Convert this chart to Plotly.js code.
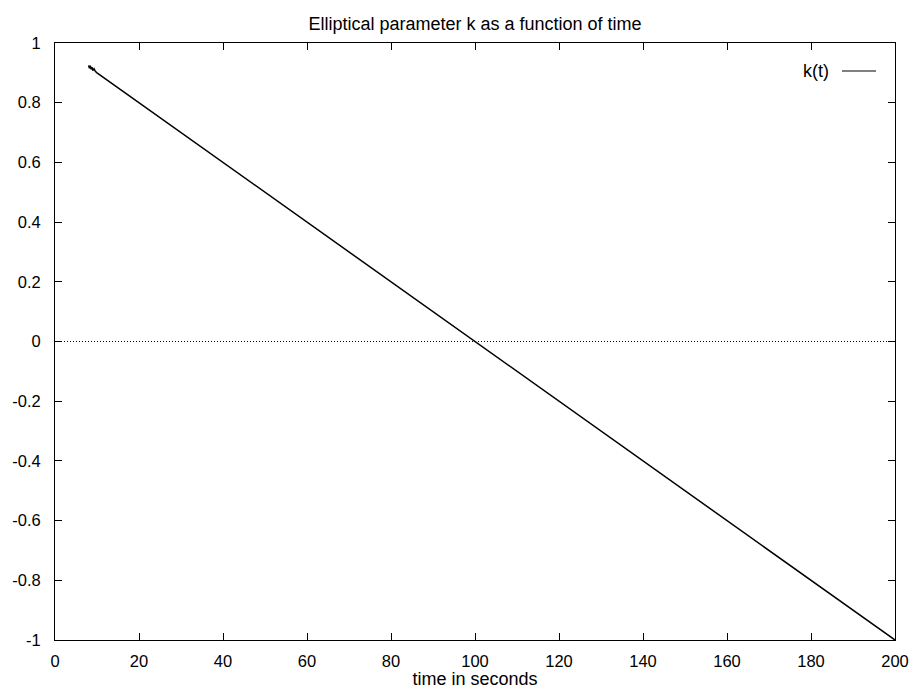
<!DOCTYPE html>
<html>
<head>
<meta charset="utf-8">
<script src="https://cdn.plot.ly/plotly-3.0.1.min.js"></script>
<style>
  html, body { margin: 0; padding: 0; background: #fff; }
  #chart { width: 915px; height: 689px; }
</style>
</head>
<body>
<div id="chart"></div>
<script>
// Time samples (seconds) and elliptical parameter k(t)
const timeSec = [8.0, 8.2, 8.4, 8.6, 8.8, 9.0, 9.3, 9.6, 10, 20, 40, 60, 80, 100, 120, 140, 160, 180, 200];
const kValues = [0.925, 0.915, 0.924, 0.912, 0.919, 0.908, 0.914, 0.905, 0.90, 0.80, 0.60, 0.40, 0.20, 0.00, -0.20, -0.40, -0.60, -0.80, -1.00];

const xTicks = [0, 20, 40, 60, 80, 100, 120, 140, 160, 180, 200];
const yTicks = [-1, -0.8, -0.6, -0.4, -0.2, 0, 0.2, 0.4, 0.6, 0.8, 1];

const FONT = 'Liberation Sans, Arial, Helvetica, sans-serif';
const TEXT_SIZE = 18;
const TICK_SIZE = 16.5;

const traces = [{
  x: timeSec,
  y: kValues,
  type: 'scatter',
  mode: 'lines',
  name: 'k(t)',
  line: { color: '#000', width: 1.5 },
  showlegend: false
}];

const axisCommon = {
  showgrid: false,
  zeroline: false,
  showline: true,
  linecolor: '#000',
  linewidth: 1,
  mirror: 'ticks',
  ticks: 'inside',
  ticklen: 7,
  tickwidth: 1,
  tickcolor: '#000',
  tickfont: { family: FONT, size: TICK_SIZE, color: '#000' }
};

const layout = {
  width: 915,
  height: 689,
  margin: { l: 55, r: 20, t: 43, b: 49 },
  paper_bgcolor: '#fff',
  plot_bgcolor: '#fff',
  font: { family: FONT, size: TEXT_SIZE, color: '#000' },
  title: {
    text: 'Elliptical parameter k as a function of time',
    font: { family: FONT, size: TEXT_SIZE, color: '#000' },
    x: 0.5, xref: 'paper', xanchor: 'center',
    y: 1 - 24 / 689, yanchor: 'middle', yref: 'container'
  },
  xaxis: Object.assign({}, axisCommon, {
    range: [0, 200],
    tickvals: xTicks,
    ticktext: xTicks.map(String),
    ticklabelstandoff: 6,
    title: { text: 'time in seconds', font: { family: FONT, size: TEXT_SIZE, color: '#000' }, standoff: 1 }
  }),
  yaxis: Object.assign({}, axisCommon, {
    range: [-1, 1],
    tickvals: yTicks,
    ticktext: yTicks.map(String),
    ticklabelstandoff: 10
  }),
  shapes: [
    // dotted zero reference line
    { type: 'line', xref: 'paper', yref: 'y', x0: 0, x1: 1, y0: 0, y1: 0,
      line: { color: '#000', width: 1, dash: '1px,2px' } },
    // legend sample line
    { type: 'line', xref: 'paper', yref: 'paper',
      x0: (842 - 55) / 840, x1: (876 - 55) / 840,
      y0: (640 - 71) / 597, y1: (640 - 71) / 597,
      line: { color: '#000', width: 1 } }
  ],
  annotations: [
    { text: 'k(t)', xref: 'paper', yref: 'paper',
      x: (831 - 55) / 840, y: (640 - 71) / 597,
      xanchor: 'right', yanchor: 'middle', showarrow: false,
      font: { family: FONT, size: TEXT_SIZE, color: '#000' } }
  ]
};

Plotly.newPlot('chart', traces, layout, { displayModeBar: false, staticPlot: true });
</script>
</body>
</html>
